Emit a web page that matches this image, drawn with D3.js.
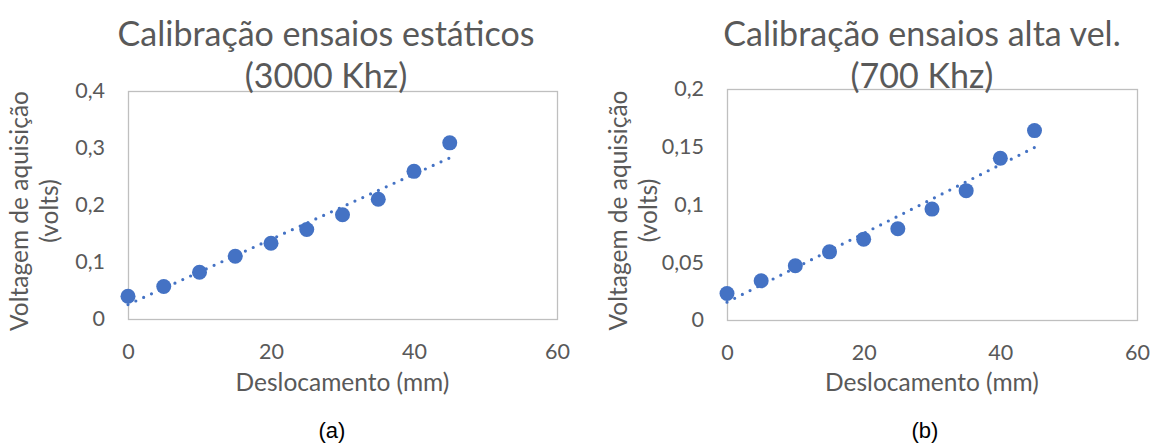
<!DOCTYPE html>
<html>
<head>
<meta charset="utf-8">
<script src="https://cdn.jsdelivr.net/npm/d3@7"></script>
<style>
  body { margin: 0; background: #fff; }
  svg { display: block; }
  text { font-family: Lato, "Open Sans", sans-serif; }
</style>
</head>
<body>
<svg id="chart" width="1151" height="447"></svg>
<script>
// --- data ---
const deslocamento = [0, 5, 10, 15, 20, 25, 30, 35, 40, 45];
const tensaoEstatico = [0.040, 0.057, 0.082, 0.110, 0.133, 0.157, 0.183, 0.210, 0.259, 0.309];
const tensaoAltaVel = [0.023, 0.034, 0.047, 0.059, 0.070, 0.079, 0.096, 0.112, 0.140, 0.164];

const xTicks = [0, 20, 40, 60];
const yTicksEstatico = [0, 0.1, 0.2, 0.3, 0.4];
const yTicksAltaVel = [0, 0.05, 0.1, 0.15, 0.2];

const titulosEstatico = ["Calibração ensaios estáticos", "(3000 Khz)"];
const titulosAltaVel = ["Calibração ensaios alta vel.", "(700 Khz)"];
const tituloX = "Deslocamento (mm)";
const tituloY = ["Voltagem de aquisição", "(volts)"];
const rotulos = ["(a)", "(b)"];

// --- setup ---
const svg = d3.select("#chart");
const BLUE = "#4472C4";
const TXT = "#595959";
const GRID = "#BFBFBF";

const fmt = d3.formatLocale({ decimal: ",", thousands: ".", grouping: [3], currency: ["", ""] }).format(".2~f");

const panels = [
  { ys: tensaoEstatico, yTicks: yTicksEstatico, titles: titulosEstatico, label: rotulos[0],
    left: 128, top: 91, right: 557, bottom: 319, titleX: 326, yTitleX: 18, labelX: 332 },
  { ys: tensaoAltaVel, yTicks: yTicksAltaVel, titles: titulosAltaVel, label: rotulos[1],
    left: 727, top: 89, right: 1137, bottom: 320, titleX: 922, yTitleX: 617, labelX: 925 }
];

// least squares trendline
function linearFit(xs, ys) {
  const mx = d3.mean(xs), my = d3.mean(ys);
  let num = 0, den = 0;
  xs.forEach((x, i) => { num += (x - mx) * (ys[i] - my); den += (x - mx) * (x - mx); });
  const slope = num / den;
  return { slope, intercept: my - slope * mx };
}

panels.forEach(p => {
  const g = svg.append("g");

  const x = d3.scaleLinear().domain([xTicks[0], xTicks[xTicks.length - 1]]).range([p.left, p.right]);
  const y = d3.scaleLinear().domain([p.yTicks[0], p.yTicks[p.yTicks.length - 1]]).range([p.bottom, p.top]);

  // plot frame
  g.append("rect")
    .attr("x", p.left + 0.5).attr("y", p.top + 0.5)
    .attr("width", p.right - p.left).attr("height", p.bottom - p.top)
    .attr("fill", "none").attr("stroke", GRID).attr("stroke-width", 1.3);

  // axes
  const ax = g.append("g")
    .attr("transform", `translate(0,${p.bottom})`)
    .call(d3.axisBottom(x).tickValues(xTicks).tickSize(0).tickPadding(25).tickFormat(d3.format("d")));
  const ay = g.append("g")
    .attr("transform", `translate(${p.left},0)`)
    .call(d3.axisLeft(y).tickValues(p.yTicks).tickSize(0).tickPadding(23).tickFormat(fmt));
  [ax, ay].forEach(a => {
    a.select(".domain").remove();
    a.selectAll("text").attr("fill", TXT).style("font-size", "21.5px").style("font-family", "Lato, sans-serif");
  });

  // trendline (dotted)
  const fit = linearFit(deslocamento, p.ys);
  const x0 = deslocamento[0], x1 = deslocamento[deslocamento.length - 1];
  g.append("line")
    .attr("x1", x(x0)).attr("y1", y(fit.intercept + fit.slope * x0))
    .attr("x2", x(x1)).attr("y2", y(fit.intercept + fit.slope * x1))
    .attr("stroke", BLUE).attr("stroke-width", 3.2)
    .attr("stroke-linecap", "round").attr("stroke-dasharray", "0 8.6");

  // points
  g.selectAll("circle")
    .data(deslocamento.map((d, i) => [d, p.ys[i]]))
    .join("circle")
    .attr("cx", d => x(d[0])).attr("cy", d => y(d[1]))
    .attr("r", 7.5).attr("fill", BLUE);

  // titles
  g.selectAll(".title")
    .data(p.titles)
    .join("text")
    .attr("class", "title")
    .attr("x", p.titleX).attr("y", (d, i) => 32 + i * 42)
    .attr("text-anchor", "middle").attr("dominant-baseline", "central")
    .attr("fill", TXT).style("font-size", "34px")
    .text(d => d);

  g.append("text")
    .attr("x", (p.left + p.right) / 2).attr("y", 381)
    .attr("text-anchor", "middle").attr("dominant-baseline", "central")
    .attr("fill", TXT).style("font-size", "24.5px")
    .text(tituloX);

  const cy = (p.top + p.bottom) / 2 + 6;
  tituloY.forEach((t, i) => {
    g.append("text")
      .attr("transform", `translate(${p.yTitleX + i * 30},${cy}) rotate(-90)`)
      .attr("text-anchor", "middle").attr("dominant-baseline", "central")
      .attr("fill", TXT).style("font-size", "24.5px")
      .text(t);
  });

  g.append("text")
    .attr("x", p.labelX).attr("y", 430)
    .attr("text-anchor", "middle").attr("dominant-baseline", "central")
    .attr("fill", "#000").style("font-size", "22px")
    .style("font-family", "'Liberation Sans', Arial, sans-serif")
    .text(p.label);
});
</script>
</body>
</html>
